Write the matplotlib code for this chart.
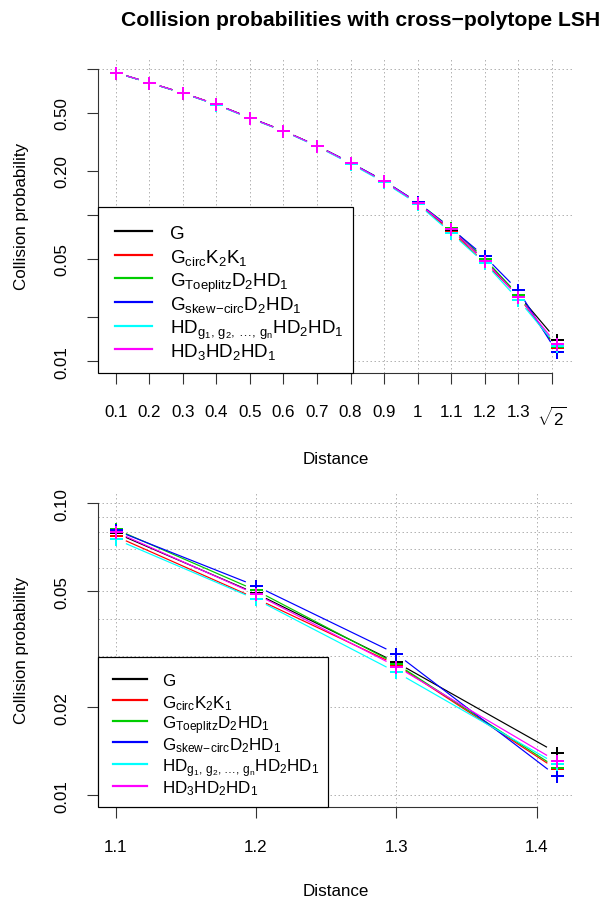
import numpy as np
import matplotlib.pyplot as plt
from matplotlib.patches import Rectangle
from matplotlib.lines import Line2D
from matplotlib.ticker import NullLocator

plt.rcParams['font.family'] = ['Liberation Sans', 'DejaVu Sans']
plt.rcParams['mathtext.fontset'] = 'custom'
plt.rcParams['mathtext.rm'] = 'Liberation Sans'
plt.rcParams['mathtext.it'] = 'Liberation Sans:italic'
plt.rcParams['mathtext.bf'] = 'Liberation Sans:bold'

W, H, DPI = 603, 903, 100

# data
distance = [0.1, 0.2, 0.3, 0.4, 0.5, 0.6, 0.7, 0.8, 0.9, 1.0, 1.1, 1.2, 1.3, 1.41421]
xticks_top = [0.1, 0.2, 0.3, 0.4, 0.5, 0.6, 0.7, 0.8, 0.9, 1.0, 1.1, 1.2, 1.3, 1.4]
xlabels_top = ['0.1', '0.2', '0.3', '0.4', '0.5', '0.6', '0.7', '0.8', '0.9', '1',
               '1.1', '1.2', '1.3', r'$\sqrt{2}$']
xticks_bot = [1.1, 1.2, 1.3, 1.4]
xlabels_bot = ['1.1', '1.2', '1.3', '1.4']

p_G = [0.940, 0.802, 0.682, 0.570, 0.461, 0.376, 0.297, 0.227, 0.170, 0.121, 0.0791, 0.0491, 0.0285, 0.0140]
p_circ = [0.941, 0.803, 0.683, 0.571, 0.462, 0.377, 0.296, 0.226, 0.169, 0.120, 0.0771, 0.0472, 0.0280, 0.01228]
p_toep = [0.939, 0.801, 0.681, 0.569, 0.460, 0.375, 0.298, 0.228, 0.171, 0.122, 0.0815, 0.0503, 0.0282, 0.01244]
p_skew = [0.940, 0.802, 0.682, 0.568, 0.463, 0.376, 0.297, 0.228, 0.171, 0.122, 0.0808, 0.0521, 0.0305, 0.01165]
p_hdg = [0.938, 0.800, 0.680, 0.566, 0.458, 0.374, 0.294, 0.224, 0.167, 0.119, 0.0753, 0.0469, 0.0264, 0.0128]
p_hd3 = [0.941, 0.803, 0.683, 0.570, 0.461, 0.376, 0.297, 0.227, 0.170, 0.121, 0.0798, 0.0488, 0.0276, 0.0131]

series = [p_G, p_circ, p_toep, p_skew, p_hdg, p_hd3]
names = [r'G',
         r'G$_{\mathrm{circ}}$K$_2$K$_1$',
         r'G$_{\mathrm{Toeplitz}}$D$_2$HD$_1$',
         r'G$_{\mathrm{skew\!-\!circ}}$D$_2$HD$_1$',
         r'HD$_{\mathrm{g_1,\,g_2,\,\ldots,\,g_n}}$HD$_2$HD$_1$',
         r'HD$_3$HD$_2$HD$_1$']
colors = ['black', 'red', '#00CD00', 'blue', 'cyan', 'magenta']


def pt(p):
    return p * 72 / DPI


def fig_xy(x, y):
    return x / W, 1 - y / H


fig = plt.figure(figsize=(W / DPI, H / DPI), dpi=DPI)


def panel(top, bottom, x, ys, xlim, ylim, xticks, xlabels, yticks, ylabels,
          hgrid, leg_box, leg_rows, leg_line, leg_text_x, leg_fs, xlab_y):
    left, right = 98.1, 574.2
    ax = fig.add_axes([left / W, 1 - bottom / H, (right - left) / W, (bottom - top) / H])
    ax.set_yscale('log')
    lx0, lx1 = xlim
    ax.set_xlim(lx0 - 0.04 * (lx1 - lx0), lx1 + 0.04 * (lx1 - lx0))
    l0, l1 = np.log10(ylim)
    ax.set_ylim(10 ** (l0 - 0.04 * (l1 - l0)), 10 ** (l1 + 0.04 * (l1 - l0)))
    ax.patch.set_visible(False)

    for s in ['top', 'right']:
        ax.spines[s].set_visible(False)
    ax.spines['left'].set_bounds(yticks[0], yticks[-1])
    ax.spines['bottom'].set_bounds(xticks[0], xticks[-1])
    for s in ['left', 'bottom']:
        ax.spines[s].set_linewidth(pt(1.1))
        ax.spines[s].set_color('#333333')

    ax.set_xticks(xticks)
    ax.set_xticklabels(xlabels, fontsize=pt(17))
    ax.set_yticks(yticks)
    ax.set_yticklabels(ylabels, fontsize=pt(17), rotation=90, va='center')
    ax.yaxis.set_minor_locator(NullLocator())
    ax.tick_params(direction='out', length=pt(11.5), width=pt(1.1), color='#333333')
    ax.tick_params(axis='x', pad=pt(20))
    ax.tick_params(axis='y', pad=pt(17))

    # grid
    for xv in xticks:
        ax.axvline(xv, color='#b4b4b4', lw=pt(1), ls=(0, (1.5, 2.5)), zorder=0)
    for yv in hgrid:
        ax.axhline(yv, color='#b4b4b4', lw=pt(1), ls=(0, (1.5, 2.5)), zorder=0)

    # lines with gaps around points (R type = "b")
    gap = 11
    inv = ax.transData.inverted()
    for k, (yv, c) in enumerate(zip(ys, colors)):
        P = ax.transData.transform(np.column_stack([x, yv]))
        for (x0, y0), (x1, y1) in zip(P[:-1], P[1:]):
            d = np.hypot(x1 - x0, y1 - y0)
            if d <= 2 * gap:
                continue
            ux, uy = (x1 - x0) / d, (y1 - y0) / d
            seg = inv.transform([[x0 + ux * gap, y0 + uy * gap], [x1 - ux * gap, y1 - uy * gap]])
            ax.plot(seg[:, 0], seg[:, 1], color=c, lw=pt(1.2), solid_capstyle='butt', zorder=2 + k)
        ax.plot(x, yv, ls='none', marker='+', ms=pt(13), mew=pt(2), color=c, zorder=2 + k)

    fig.text(*fig_xy(336, xlab_y), 'Distance', fontsize=pt(17), ha='center', va='center')
    fig.text(*fig_xy(22, (top + bottom) / 2), 'Collision probability', fontsize=pt(17),
             ha='center', va='center', rotation=90)

    # legend
    bx0, by0, bx1, by1 = leg_box
    fig.patches.append(Rectangle(fig_xy(bx0, by1), (bx1 - bx0) / W, (by1 - by0) / H,
                                 transform=fig.transFigure, facecolor='white',
                                 edgecolor='black', lw=pt(1.2), zorder=5))
    for yr, name, c in zip(leg_rows, names, colors):
        a = fig_xy(leg_line[0], yr)
        b = fig_xy(leg_line[1], yr)
        fig.lines.append(Line2D([a[0], b[0]], [a[1], b[1]], transform=fig.transFigure,
                                color=c, lw=pt(2.2), zorder=6))
        fig.text(*fig_xy(leg_text_x, yr), name, fontsize=pt(leg_fs), ha='left',
                 va='center_baseline', zorder=7)
    return ax


d_bot = distance[10:]
panel(58, 374, distance, series, (0.1, 1.41421), (0.01, 1.0),
      xticks_top, xlabels_top,
      [0.01, 0.02, 0.05, 0.1, 0.2, 0.5, 1.0],
      ['0.01', '', '0.05', '', '0.20', '0.50', ''],
      [0.01, 0.1, 1.0],
      (98.1, 208, 353, 374), [232.3, 255.5, 279, 303, 326.7, 350], (115, 152), 170, 18.8, 460)

panel(492.6, 808, d_bot, [s[10:] for s in series], (1.1, 1.41421), (0.01, 0.1),
      xticks_bot, xlabels_bot,
      [0.01, 0.02, 0.05, 0.1],
      ['0.01', '0.02', '0.05', '0.10'],
      [0.01, 0.02, 0.03, 0.04, 0.05, 0.06, 0.07, 0.08, 0.09, 0.1],
      (98.1, 658, 328, 808), [680, 701.3, 722, 743.3, 765, 786.7], (113, 147), 162, 17, 892)

fig.text(*fig_xy(361, 20), 'Collision probabilities with cross\u2212polytope LSH',
         fontsize=pt(21.2), fontweight='bold', ha='center', va='center')

fig.savefig('out.png', dpi=DPI)
